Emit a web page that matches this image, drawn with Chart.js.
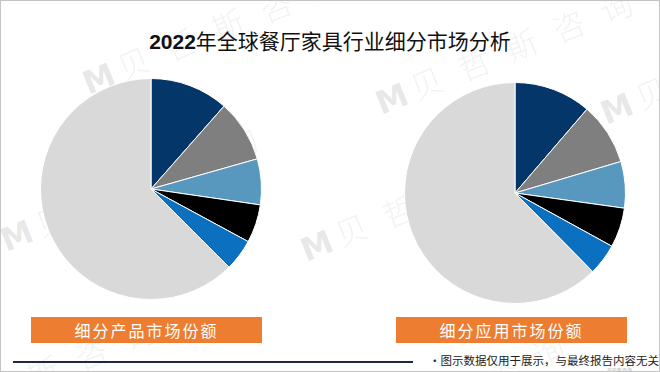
<!DOCTYPE html>
<html>
<head>
<meta charset="utf-8">
<script src="https://cdn.jsdelivr.net/npm/chart.js@4"></script>
<style>
  html, body { margin: 0; padding: 0; background: #fff; }
  #frame {
    position: relative; width: 658px; height: 370px; overflow: hidden;
    border: 1px solid #c4c4c4; background: #fff;
    font-family: 'Noto Sans CJK SC', sans-serif;
  }
  .wm {
    position: absolute; color: rgba(120, 120, 120, 0.10); font-size: 32px;
    letter-spacing: 6px; white-space: nowrap; transform-origin: left center;
    transform: rotate(-22deg); font-family: 'Noto Sans CJK SC', sans-serif; font-weight: 300;
  }
  .wm b { font-family: 'DejaVu Sans', sans-serif; font-weight: bold; color: rgba(110,110,110,0.16); letter-spacing: 0; margin-right: 6px; }
  #title {
    position: absolute; left: 0; width: 658px; top: 24px; text-align: center;
    font-size: 21px; color: #111;
  }
  #title span { font-family: 'Liberation Sans', sans-serif; font-weight: bold; }
  .box {
    position: absolute; top: 316px; height: 26px; width: 231px; background: #ed7d31;
    color: #fff; font-size: 16px; line-height: 26px; text-align: center; letter-spacing: 2px;
  }
  #rule { position: absolute; left: 12px; top: 360px; width: 400px; height: 2px; background: #1e2940; }
  #note { position: absolute; left: 428px; top: 351px; font-size: 11.5px; color: #222; white-space: nowrap; }
  #src { position: absolute; left: 606px; top: 365px; font-size: 5px; color: #aaa; }
  canvas { position: absolute; }
</style>
</head>
<body>
<div id="frame">
  <div class="wm" style="left:82px;top:58px"><b>M</b>贝 哲 斯 咨 询</div>
  <div class="wm" style="left:375px;top:78px"><b>M</b>贝 哲 斯 咨 询</div>
  <div class="wm" style="left:600px;top:88px"><b>M</b>贝 哲</div>
  <div class="wm" style="left:0px;top:215px"><b>M</b>贝 哲 斯 咨 询</div>
  <div class="wm" style="left:300px;top:225px"><b>M</b>贝 哲 斯 咨 询</div>
  <div class="wm" style="left:-20px;top:372px">哲 斯 咨 询</div>
  <div class="wm" style="left:390px;top:390px">哲 斯 咨 询</div>

  <div id="title"><span>2022</span>年全球餐厅家具行业细分市场分析</div>

  <canvas id="pieProduct" width="222" height="222" style="left:39px;top:77px"></canvas>
  <canvas id="pieApplication" width="222" height="222" style="left:403px;top:81px"></canvas>

  <div class="box" style="left:30px">细分产品市场份额</div>
  <div class="box" style="left:395px">细分应用市场份额</div>

  <div id="rule"></div>
  <div id="note">•图示数据仅用于展示，与最终报告内容无关</div>
  <div id="src">贝哲斯咨询</div>
</div>

<script>
// slices clockwise from 12 o'clock (%)
const productLabels = ['类型一', '类型二', '类型三', '类型四', '类型五', '其他'];
const productShares = [11.5, 9.1, 6.7, 5.6, 4.6, 62.5];

const applicationLabels = ['应用一', '应用二', '应用三', '应用四', '应用五', '其他'];
const applicationShares = [11.3, 9.1, 6.8, 5.8, 4.6, 62.4];

const SLICE_COLORS = ['#05366a', '#7f7f7f', '#5898be', '#000000', '#0b70c0', '#d9d9d9'];

function createPie(canvas, labels, data) {
    return new Chart(canvas, {
        type: 'pie',
        data: {
            labels,
            datasets: [{
                data,
                backgroundColor: SLICE_COLORS,
                borderColor: '#ffffff',
                borderWidth: 1,
            }],
        },
        options: {
            responsive: false,
            animation: false,
            layout: { padding: 0 },
            plugins: { legend: { display: false }, tooltip: { enabled: false } },
        },
    });
}

createPie(document.getElementById('pieProduct'), productLabels, productShares);
createPie(document.getElementById('pieApplication'), applicationLabels, applicationShares);
</script>
</body>
</html>
